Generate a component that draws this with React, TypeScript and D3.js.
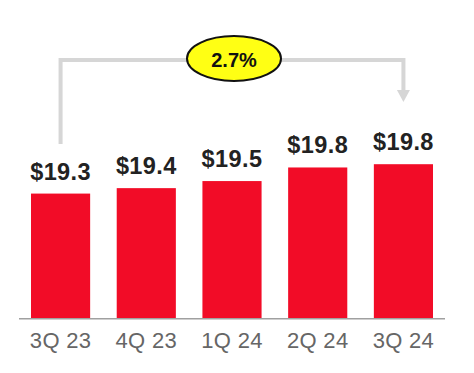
import React from "react";
import * as d3 from "d3";

const categories = ["3Q 23", "4Q 23", "1Q 24", "2Q 24", "3Q 24"];
const values = [19.3, 19.4, 19.53, 19.78, 19.84];
const growthLabel = "2.7%";

const W = 474;
const H = 373;

export default function App() {
  const x = d3.scaleBand<string>().domain(categories).range([19, 445]).paddingInner(0.31).paddingOuter(0.14);
  const y = d3.scaleLinear().domain([17, 20]).range([318.7, 155.5]);
  const fmt = d3.format("$.1f");
  const bw = x.bandwidth();
  const xL = (x(categories[0]) as number) + bw / 2;
  const xR = (x(categories[categories.length - 1]) as number) + bw / 2;
  const bracketY = 60;
  const lineColor = "#d6d6d6";
  const ex = 234;
  return (
    <svg width={W} height={H} style={{ position: "absolute", left: 0, top: 0, background: "#fff" }}>
      {/* bracket */}
      <path
        d={`M${xL},144 L${xL},${bracketY} L${xR},${bracketY} L${xR},92`}
        fill="none"
        stroke={lineColor}
        strokeWidth={4}
      />
      <path d={`M${xR - 6.5},90 L${xR + 6.5},90 L${xR},102 Z`} fill={lineColor} />
      <ellipse cx={ex} cy={58.5} rx={47} ry={22.5} fill="#ffff14" stroke="#111" strokeWidth={2} />
      <text
        x={ex}
        y={66.5}
        textAnchor="middle"
        fontFamily="Liberation Sans, Arial, sans-serif"
        fontWeight="bold"
        fontSize={20}
        fill="#111"
      >
        {growthLabel}
      </text>
      {/* bars */}
      {categories.map((c, i) => (
        <g key={c}>
          <rect
            x={x(c)}
            y={y(values[i])}
            width={bw}
            height={y(17) - y(values[i])}
            fill="#f20c27"
          />
          <text
            x={(x(c) as number) + bw / 2}
            y={y(values[i]) - 14}
            textAnchor="middle"
            fontFamily="Liberation Sans, Arial, sans-serif"
            fontWeight="bold"
            fontSize={23.5}
            letterSpacing={0.4}
            fill="#222"
          >
            {fmt(values[i])}
          </text>
          <text
            x={(x(c) as number) + bw / 2}
            y={347.5}
            textAnchor="middle"
            fontFamily="Liberation Sans, Arial, sans-serif"
            fontSize={22}
            letterSpacing={0.3}
            fill="#666"
          >
            {c}
          </text>
        </g>
      ))}
      <line x1={19} x2={445} y1={y(17)} y2={y(17)} stroke="#a0a0a0" strokeWidth={1.5} />
    </svg>
  );
}
